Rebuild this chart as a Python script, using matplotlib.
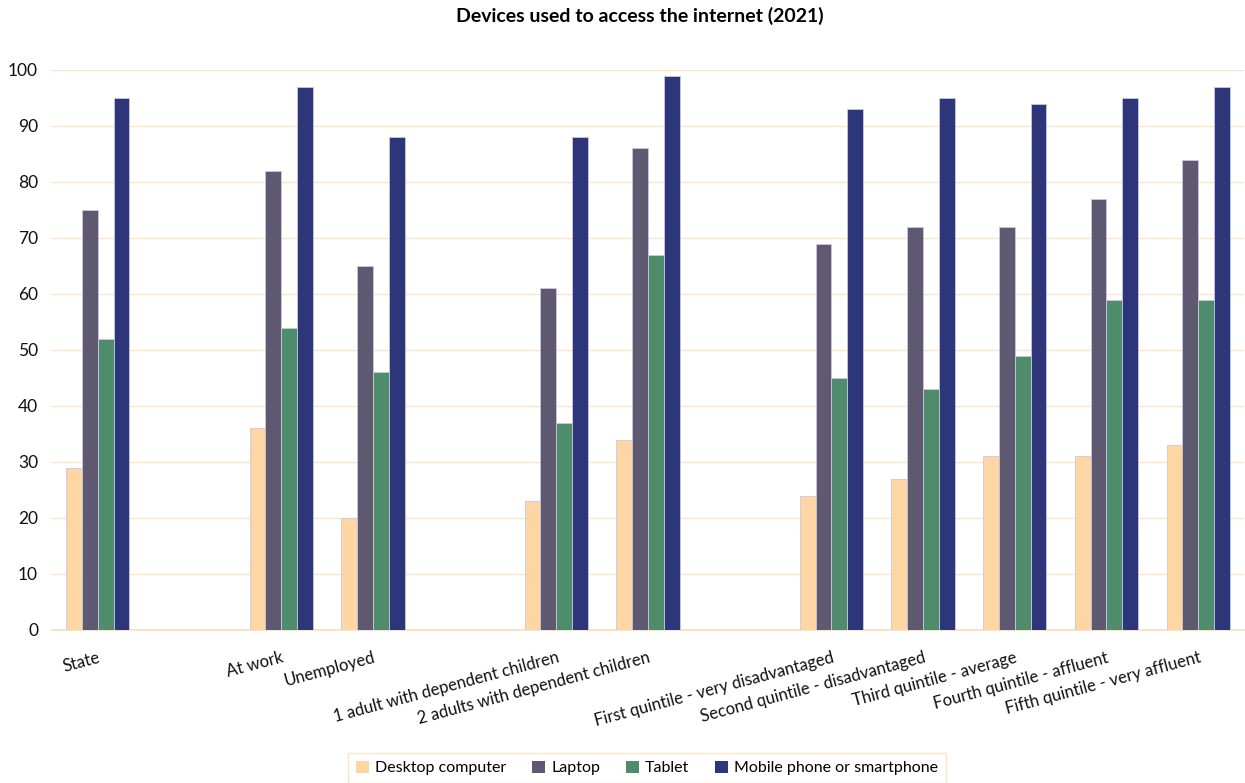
import numpy as np
import matplotlib
matplotlib.use("Agg")
import matplotlib.pyplot as plt

plt.rcParams['font.family'] = ['Lato', 'DejaVu Sans']

categories = ["State", "", "At work", "Unemployed", "",
              "1 adult with dependent children", "2 adults with dependent children", "",
              "First quintile - very disadvantaged", "Second quintile - disadvantaged",
              "Third quintile - average", "Fourth quintile - affluent",
              "Fifth quintile - very affluent"]
nan = np.nan
desktop = [29, nan, 36, 20, nan, 23, 34, nan, 24, 27, 31, 31, 33]
laptop = [75, nan, 82, 65, nan, 61, 86, nan, 69, 72, 72, 77, 84]
tablet = [52, nan, 54, 46, nan, 37, 67, nan, 45, 43, 49, 59, 59]
mobile = [95, nan, 97, 88, nan, 88, 99, nan, 93, 95, 94, 95, 97]

series = [("Desktop computer", desktop, "#FDD6A3"),
          ("Laptop", laptop, "#5E5871"),
          ("Tablet", tablet, "#4F8C6B"),
          ("Mobile phone or smartphone", mobile, "#2E367A")]

fig = plt.figure(figsize=(12.45, 7.83), dpi=100)
ax = fig.add_axes([52/1245, 1 - 630/783, (1244-52)/1245, 560/783])

x = np.arange(len(categories))
w = 0.1725
for i, (name, vals, col) in enumerate(series):
    ax.bar(x + (i - 1.5) * w, vals, width=w, color=col, label=name,
           edgecolor="#C9C8E0", linewidth=0.6, zorder=3)

ax.set_xlim(-0.5, len(categories) - 0.5)
ax.set_ylim(0, 100)
ax.set_yticks(range(0, 101, 10))
ax.grid(axis='y', color="#FBE3C6", linewidth=1.0, zorder=0)
for s in ["top", "right", "left"]:
    ax.spines[s].set_visible(False)
ax.spines["bottom"].set_color("#FBDDB8")
ax.spines["bottom"].set_linewidth(1.2)
ax.tick_params(axis='y', length=0, labelsize=12.5, pad=10, labelcolor="#111111")
ax.tick_params(axis='x', length=0, labelsize=12, pad=14, labelcolor="#111111")
ax.set_xticks(x)
ax.set_xticklabels(categories, rotation=15, ha='right', rotation_mode='anchor')

fig.text(640/1245, 1 - 16/783, "Devices used to access the internet (2021)",
         ha='center', va='center', fontsize=14, fontweight='bold')

leg = fig.legend(loc='center', bbox_to_anchor=(647/1245, 1 - 768/783), ncol=4,
                 frameon=True, fancybox=False, fontsize=11.5, handlelength=0.8,
                 handleheight=0.8, handletextpad=0.4, columnspacing=1.6,
                 borderpad=0.5)
leg.get_frame().set_edgecolor("#FBDDB8")
leg.get_frame().set_linewidth(1.0)
for h in leg.legend_handles:
    h.set_edgecolor("none")

fig.savefig("out.png", dpi=100)
